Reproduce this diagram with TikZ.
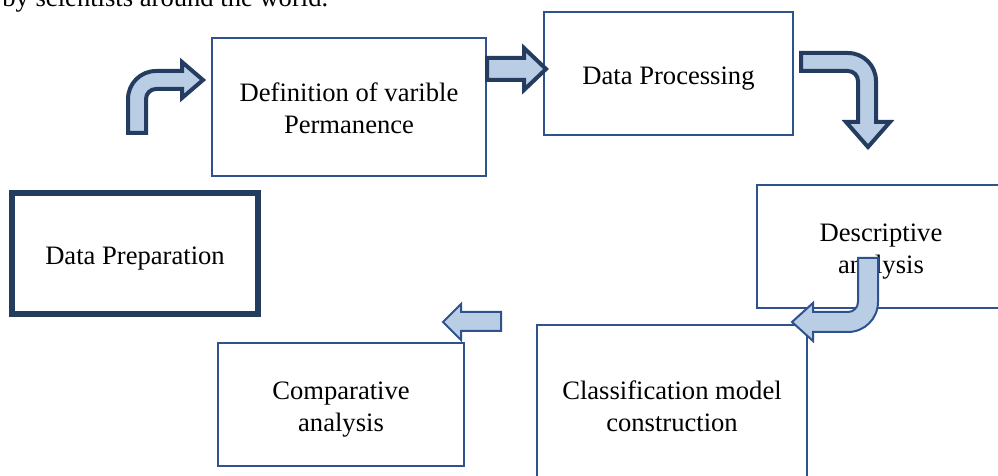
\documentclass[tikz,border=0pt]{standalone}
\usepackage{fontspec}
\setmainfont{Liberation Serif}
\usepackage{xcolor}
\usepackage{tikz}
\usetikzlibrary{positioning}
\definecolor{boxblue}{RGB}{47,82,143}
\definecolor{navy}{RGB}{35,60,95}
\definecolor{arrowfill}{RGB}{185,205,229}
\newcommand{\lnstrut}{\rule[-2.9pt]{0pt}{16.6pt}}
\tikzset{
  stagebox/.style={
    rectangle, draw=boxblue, line width=0.9pt, fill=white,
    inner sep=0pt, align=center, font=\fontsize{13.3}{16}\selectfont,
    execute at end node=\lnstrut
  },
  mainbox/.style={stagebox, draw=navy, line width=2.6pt},
  boldarrow/.style={draw=navy, fill=arrowfill, line width=2pt, line join=miter},
  lightarrow/.style={draw=boxblue, fill=arrowfill, line width=1pt, line join=miter},
}

\begin{document}
\begin{tikzpicture}[x=0.5pt, y=-0.5pt]
  \useasboundingbox (0,0) rectangle (998,476);
  \clip (0,0) rectangle (998,476);
  \node[anchor=base west, inner sep=0pt, font=\fontsize{13.3}{16}\selectfont] (intro) at (2,7) {by scientists around the world.};
  \node[mainbox, minimum width=123pt, minimum height=60.5pt] (prep) at (135,253.5) {\lnstrut Data Preparation};
  \node[stagebox, minimum width=137pt, minimum height=69pt] (defn) at (349,107) {\lnstrut Definition of varible\\Permanence};
  \node[stagebox, minimum width=124.5pt, minimum height=61.5pt] (proc) at (668.5,73.5) {\lnstrut Data Processing};
  \node[stagebox, minimum width=124pt, minimum height=61.5pt] (desc) at (881,246.5) {\lnstrut Descriptive\\analysis};
  \node[stagebox, minimum width=135pt, minimum height=80pt] (clas) at (672,405) {\lnstrut Classification model\\construction};
  \node[stagebox, minimum width=123pt, minimum height=61.5pt] (comp) at (341,404.5) {\lnstrut Comparative\\analysis};
  \draw[boldarrow] (128,133) -- (128,99) arc[start angle=180, end angle=90, radius=14pt]
    -- (182,71) -- (182,62) -- (203,80) -- (182,98) -- (182,89) -- (156,89)
    arc[start angle=90, end angle=180, radius=5pt] -- (146,133) -- cycle;
  \draw[boldarrow] (487,58) -- (524,58) -- (524,48) -- (546,69) -- (524,90) -- (524,80) -- (487,80) -- cycle;
  \draw[boldarrow] (801,53) -- (848,53) arc[start angle=90, end angle=0, radius=14pt]
    -- (876,122) -- (890,122) -- (868,147) -- (846,122) -- (858,122) -- (858,81)
    arc[start angle=0, end angle=90, radius=5pt] -- (801,71) -- cycle;
  \draw[lightarrow] (858,258) -- (878,258) -- (878,302) arc[start angle=0, end angle=-90, radius=15pt]
    -- (813,332) -- (813,341) -- (792,322) -- (813,303) -- (813,312) -- (848,312)
    arc[start angle=-90, end angle=0, radius=5pt] -- cycle;
  \draw[lightarrow] (501,312) -- (461,312) -- (461,304) -- (443,322) -- (461,340) -- (461,331) -- (501,331) -- cycle;
\end{tikzpicture}
\end{document}
